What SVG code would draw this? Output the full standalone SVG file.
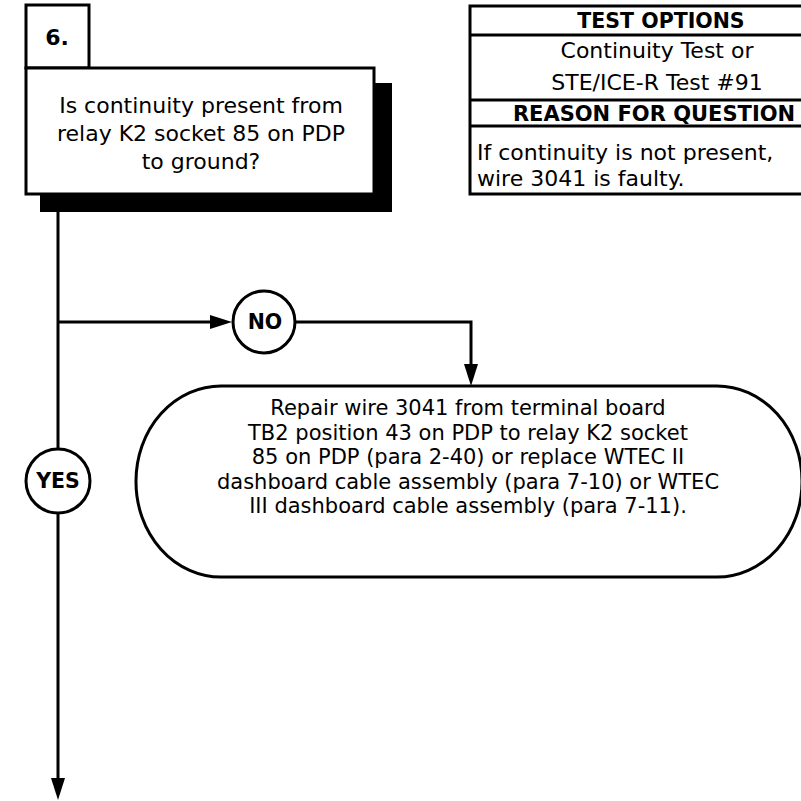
<svg xmlns="http://www.w3.org/2000/svg" width="801" height="801" viewBox="0 0 801 801">
<defs>
<style>
.ln{fill:none;stroke:#000;stroke-width:3}
.bx{fill:#fff;stroke:#000;stroke-width:3}
.t{font-family:"DejaVu Sans","Liberation Sans",sans-serif;font-size:21px;fill:#000;text-anchor:middle}
.q{font-size:22px}
.b{font-weight:bold;font-size:20.5px}
.l{text-anchor:start}
</style>
</defs>
<rect width="801" height="801" fill="#fff"/>
<g id="connectors">
<line class="ln" x1="58" y1="212" x2="58" y2="778"/>
<path d="M51,778 L65,778 L58,800 Z" fill="#000"/>
<line class="ln" x1="58" y1="322" x2="212" y2="322"/>
<path d="M210,315 L232,322 L210,329 Z" fill="#000"/>
<polyline class="ln" points="295,322 471,322 471,366"/>
<path d="M464,364 L478,364 L471,386 Z" fill="#000"/>
</g>
<g id="step6">
<rect class="bx" x="26" y="5" width="63" height="63"/>
<text class="t b" x="57" y="45" style="font-size:22px">6.</text>
<rect x="40" y="83" width="352" height="129" fill="#000"/>
<rect class="bx" x="26" y="68" width="348" height="126"/>
<text class="t q" x="201" y="113">Is continuity present from</text>
<text class="t q" x="201" y="141">relay K2 socket 85 on PDP</text>
<text class="t q" x="201" y="169">to ground?</text>
</g>
<g id="table">
<rect class="bx" x="470" y="6" width="390" height="188"/>
<line class="ln" x1="470" y1="35" x2="860" y2="35"/>
<line class="ln" x1="470" y1="100" x2="860" y2="100"/>
<line class="ln" x1="470" y1="126" x2="860" y2="126"/>
<text class="t b" x="661" y="28">TEST OPTIONS</text>
<text class="t q" x="657" y="58">Continuity Test or</text>
<text class="t q" x="657" y="90">STE/ICE-R Test #91</text>
<text class="t b" x="654" y="121" style="font-size:21px">REASON FOR QUESTION</text>
<text class="t q l" x="477" y="160">If continuity is not present,</text>
<text class="t q l" x="477" y="186">wire 3041 is faulty.</text>
</g>
<g id="no">
<circle class="bx" cx="264" cy="322" r="31"/>
<text class="t b" x="265" y="329">NO</text>
</g>
<g id="yes">
<circle class="bx" cx="58" cy="481" r="32"/>
<text class="t b" x="58" y="488">YES</text>
</g>
<g id="repair">
<rect class="bx" x="136" y="386" width="666" height="191" rx="85" ry="95"/>
<text class="t" x="468" y="415">Repair wire 3041 from terminal board</text>
<text class="t" x="468" y="440">TB2 position 43 on PDP to relay K2 socket</text>
<text class="t" x="468" y="464">85 on PDP (para 2-40) or replace WTEC II</text>
<text class="t" x="468" y="489">dashboard cable assembly  (para 7-10) or WTEC</text>
<text class="t" x="468" y="513">III dashboard cable assembly (para 7-11).</text>
</g>
</svg>
